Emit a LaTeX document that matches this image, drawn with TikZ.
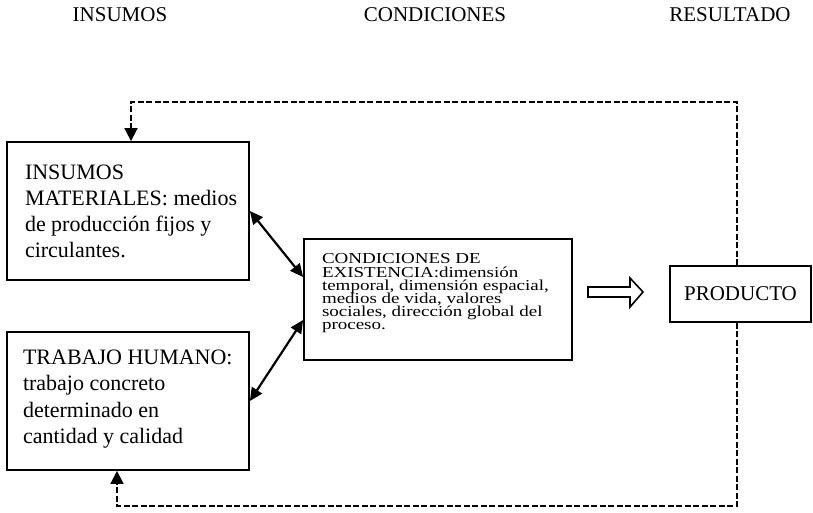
\documentclass[tikz,border=0pt]{standalone}
\usepackage{fontspec}
\setmainfont{Liberation Serif}
\usetikzlibrary{arrows.meta}
\newcommand{\boxtxt}[5]{\makebox[#1][l]{\hspace*{#2}\raisebox{0pt}[\dimexpr\height+#3\relax][\dimexpr\depth+#4\relax]{\parbox[c]{\dimexpr#1-#2\relax}{\lineskiplimit=-100pt\raggedright #5}}}}
\newcommand{\squish}[1]{\scalebox{1}[0.8]{#1}}
\begin{document}
\begin{tikzpicture}[x=1pt,y=-1pt,
  box/.style={draw, line width=1.8pt, inner sep=0pt},
  hdr/.style={font=\fontsize{21}{25}\selectfont, anchor=base, inner sep=0pt},
  fb/.style={line width=1.7pt, dash pattern=on 6pt off 2.5pt},
  tip/.style={-{Triangle[length=13pt,width=13pt]}},
  dbl/.style={line width=2.2pt, {Triangle[length=13pt,width=12pt]}-{Triangle[length=13pt,width=12pt]}},
  hollow/.style={line width=1.6pt, line join=miter, fill=white}
]
\useasboundingbox (0,0) rectangle (813,512);

\node[hdr] (h1) at (120,21) {INSUMOS};
\node[hdr] (h2) at (435,21) {CONDICIONES};
\node[hdr] (h3) at (730,21) {RESULTADO};

\node[box, minimum width=242pt, minimum height=138pt] (b1) at (128,211)
  {\boxtxt{242pt}{18pt}{0pt}{0pt}{\fontsize{22}{26}\selectfont INSUMOS\\MATERIALES: medios\\de producción fijos y\\circulantes.}};
\node[box, minimum width=242pt, minimum height=138pt] (b2) at (128,401)
  {\boxtxt{242pt}{16pt}{0pt}{4pt}{\fontsize{22}{26.5}\selectfont TRABAJO HUMANO:\\trabajo concreto\\determinado en\\cantidad y calidad}};
\node[box, minimum width=268pt, minimum height=121pt] (b3) at (438,299.5)
  {\boxtxt{268pt}{18pt}{0pt}{12pt}{\squish{\parbox{250pt}{\lineskiplimit=-100pt\fontsize{19}{16.5}\selectfont\raggedright CONDICIONES DE\\EXISTENCIA:dimensión\\temporal, dimensión espacial,\\medios de vida, valores\\sociales, dirección global del\\proceso.}}}};
\node[box, minimum width=141pt, minimum height=56pt, font=\fontsize{21}{25}\selectfont] (pr) at (740.5,294) {PRODUCTO};

\coordinate (tr) at (737,102);
\coordinate (tl) at (131,102);
\coordinate (br) at (737,506);
\coordinate (bl) at (117,506);

\draw[fb, tip] (pr.north -| tr) -- (tr) -- (tl) -- (tl |- b1.north);
\draw[fb, tip] (pr.south -| br) -- (br) -- (bl) -- (bl |- b2.south);

\draw[dbl] (b1.east) -- ([yshift=22.5pt]b3.west);
\draw[dbl] ([yshift=-20.5pt]b3.west) -- (b2.east);

\coordinate (ha) at (588,292);
\draw[hollow] (ha) ++(0,-5) -- ++(42,0) -- ++(0,-9) -- ++(13,14) -- ++(-13,15) -- ++(0,-10) -- ++(-42,0) -- cycle;
\end{tikzpicture}
\end{document}
